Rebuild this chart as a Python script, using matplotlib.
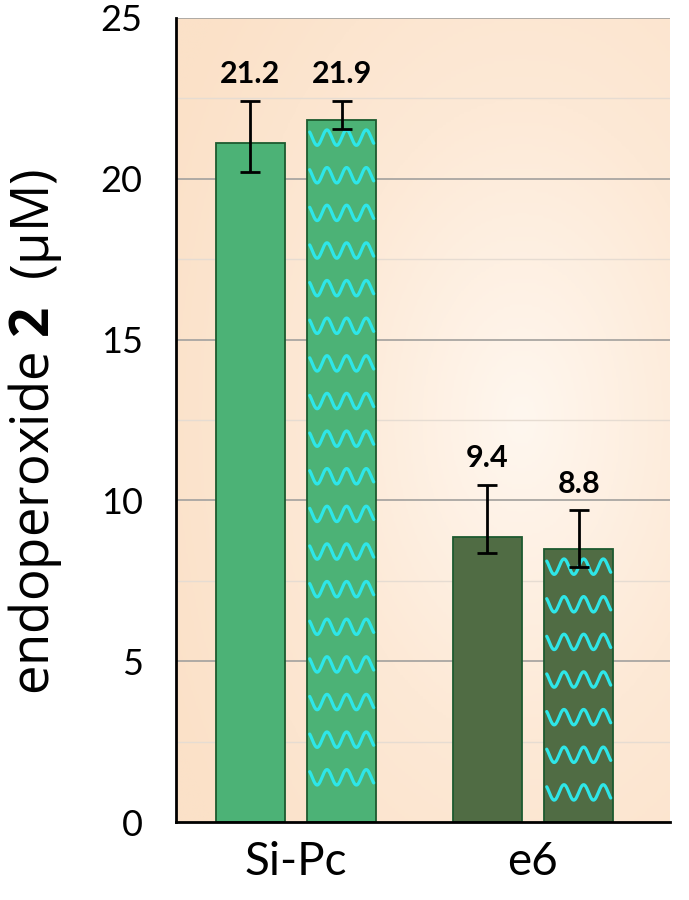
import numpy as np
import matplotlib
matplotlib.use("Agg")
import matplotlib.pyplot as plt
from matplotlib.colors import LinearSegmentedColormap

# --- data ---
groups = ["Si-Pc", "e6"]
means_plain = [21.12, 8.87]
means_wave = [21.83, 8.49]
err_low_plain = [20.2, 8.36]
err_high_plain = [22.43, 10.48]
err_low_wave = [21.54, 7.92]
err_high_wave = [22.43, 9.69]
labels_plain = ["21.2", "9.4"]
labels_wave = ["21.9", "8.8"]
bar_colors = ["#4cb276", "#506c44"]

plt.rcParams['font.family'] = ['Lato', 'DejaVu Sans']
plt.rcParams['mathtext.fontset'] = 'custom'
plt.rcParams['mathtext.rm'] = 'Open Sans'
plt.rcParams['mathtext.bf'] = 'Open Sans:bold'

fig = plt.figure(figsize=(6.89, 9), dpi=100)
ax = fig.add_axes([176 / 689, 1 - 822 / 900, 494 / 689, 804 / 900])

# --- peach radial background ---
gx, gy = np.meshgrid(np.linspace(0, 1, 300), np.linspace(0, 1, 300))
dist = np.sqrt(((gx - 0.70) / 0.8) ** 2 + ((gy - 0.50) / 0.8) ** 2)
bg_cmap = LinearSegmentedColormap.from_list("peach", ["#fff7ef", "#fde9d6", "#fbe1c8"])
ax.imshow(np.clip(dist, 0, 1), cmap=bg_cmap, vmin=0, vmax=1, extent=[0, 1, 0, 1],
          transform=ax.transAxes, aspect='auto', zorder=0, origin='lower')

x = np.arange(len(groups))
off = 0.193
width = 0.29

# gridlines
for yv in np.arange(2.5, 25.1, 2.5):
    major = yv % 5 == 0
    ax.axhline(yv, color="#a9a6a2" if major else "#e6dcd2", lw=1.3 if major else 1.0, zorder=1)

bars_p = ax.bar(x - off, means_plain, width, color=bar_colors, edgecolor="#1d5a2f", lw=1.3, zorder=2)
bars_w = ax.bar(x + off, means_wave, width, color=bar_colors, edgecolor="#1d5a2f", lw=1.3, zorder=2)

# wavy hatching on the second bar of each group
for b in bars_w:
    x0, w, h = b.get_x(), b.get_width(), b.get_height()
    xs = np.linspace(x0 + 0.01, x0 + w - 0.01, 200)
    yrow = h - 0.55
    while yrow > 0.4:
        ys = yrow + 0.24 * np.cos(2 * np.pi * 3.5 * (xs - x0) / w)
        ln, = ax.plot(xs, ys, color="#2ee6e8", lw=2.3, zorder=3, solid_capstyle='round')
        ln.set_clip_path(b)
        yrow -= 1.17

# error bars
for xs_, m, lo, hi in [(x - off, means_plain, err_low_plain, err_high_plain),
                       (x + off, means_wave, err_low_wave, err_high_wave)]:
    m = np.array(m)
    yerr = [m - np.array(lo), np.array(hi) - m]
    ax.errorbar(xs_, m, yerr=yerr, fmt='none', ecolor='black', elinewidth=2,
                capsize=7, capthick=2, zorder=4)

for xs_, hi, labs in [(x - off, err_high_plain, labels_plain), (x + off, err_high_wave, labels_wave)]:
    for xi, yi, lab in zip(xs_, hi, labs):
        ax.annotate(lab, (xi, yi), xytext=(0, 9), textcoords='offset points',
                    ha='center', va='bottom', fontsize=22, fontweight='bold')

ax.set_xlim(-0.506, 1.578)
ax.set_ylim(0, 25)
ax.set_yticks(np.arange(0, 26, 5))
ax.set_xticks(x)
ax.set_xticklabels(groups)
ax.tick_params(axis='y', length=0, pad=24, labelsize=26)
ax.tick_params(axis='x', length=0, pad=14, labelsize=33)

for s in ['top', 'right']:
    ax.spines[s].set_visible(False)
ax.spines['left'].set_linewidth(2)
ax.spines['bottom'].set_linewidth(2)
ax.spines['left'].set_zorder(5)
ax.spines['bottom'].set_zorder(5)

ax.text(-0.285, 0.485, r'endoperoxide $\mathbf{2}$  (µM)', transform=ax.transAxes,
        rotation=90, ha='center', va='center', fontsize=38, family='Open Sans')

fig.savefig("out.png", dpi=100)
